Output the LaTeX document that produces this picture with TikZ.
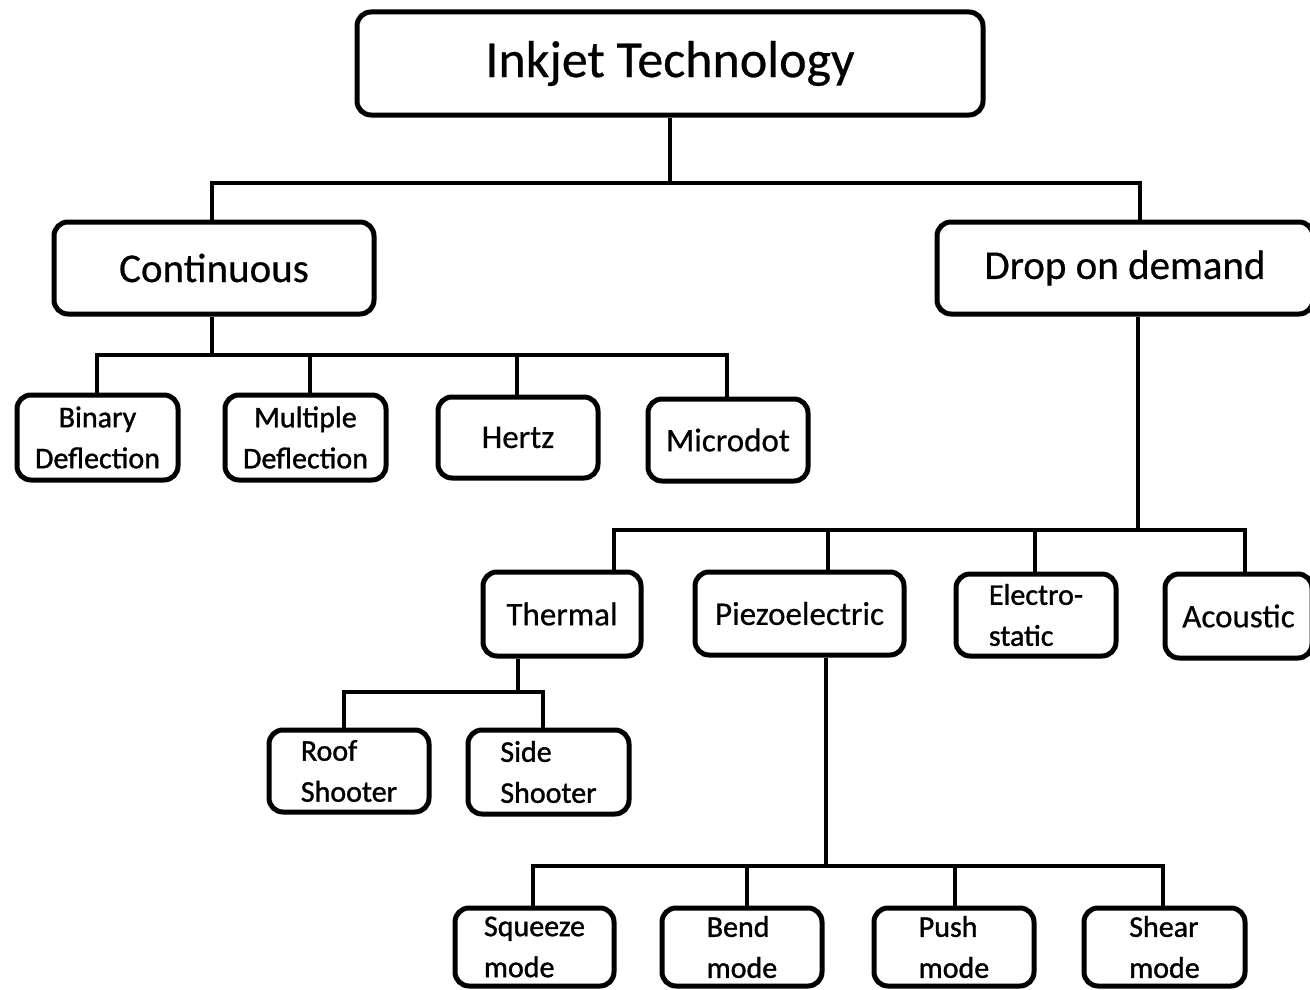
\documentclass[tikz,border=0pt]{standalone}
\usepackage{fontspec}
\setmainfont{Carlito}
\newfontfamily\heavyfont{Carlito}[FakeBold=1.2]
\newfontfamily\semifont{Carlito}[FakeBold=0.5]
\usetikzlibrary{calc}
\begin{document}
\begin{tikzpicture}[x=1pt,y=-1pt,
  box/.style={draw=black, line width=5pt, rounded corners=14pt, fill=white,
    inner sep=0pt, align=center, text=black},
  lbox/.style={box, align=left},
  conn/.style={draw=black, line width=4.5pt, line join=miter},
  big/.style={font=\semifont\fontsize{52}{60}\selectfont},
  mid/.style={font=\semifont\fontsize{41}{48}\selectfont},
  sml/.style={font=\semifont\fontsize{33}{40}\selectfont},
  two/.style={font=\heavyfont\fontsize{30}{41}\selectfont}]
\useasboundingbox (0,0) rectangle (1310,990);
\fill[white] (0,0) rectangle (1310,990);
\clip (0,0) rectangle (1310,990);

% bus coordinates
\coordinate (r1) at (212,183);
\coordinate (r2) at (1140,183);
\coordinate (c0) at (212,355);
\coordinate (c1) at (97,355);
\coordinate (c2) at (310,355);
\coordinate (c3) at (517,355);
\coordinate (c4) at (727,355);
\coordinate (d0) at (1138,530);
\coordinate (d1) at (614,530);
\coordinate (d2) at (828,530);
\coordinate (d3) at (1035,530);
\coordinate (d4) at (1245,530);
\coordinate (t0) at (518,692);
\coordinate (t1) at (344,692);
\coordinate (t2) at (543,692);
\coordinate (p0) at (826,866);
\coordinate (q1) at (533,866);
\coordinate (q2) at (747,866);
\coordinate (q3) at (955,866);
\coordinate (q4) at (1163,866);

% boxes
\node[box, big, minimum width=626, minimum height=103] (ink) at (670,63.5) {Inkjet Technology};
\node[box, mid, minimum width=320, minimum height=92] (cont) at (214,268) {Continuous};
\node[box, mid, minimum width=376, minimum height=92] (drop) at (1125,268) {Drop on demand};

\node[box, two, minimum width=161, minimum height=85] (bin) at (97.5,437.5) {Binary\\Deflection};
\node[box, two, minimum width=161, minimum height=85] (mult) at (305.5,437.5) {Multiple\\Deflection};
\node[box, sml, minimum width=160, minimum height=81] (hertz) at (518,437.5) {Hertz};
\node[box, sml, minimum width=160, minimum height=82] (micro) at (728,440) {Microdot};

\node[box, sml, minimum width=158, minimum height=84] (therm) at (562,614) {Thermal};
\node[box, sml, minimum width=209, minimum height=83] (piezo) at (799.5,613.5) {Piezoelectric};
\node[lbox, two, minimum width=160, minimum height=82] (elec) at (1036,615) {Electro-\\static};
\node[box, sml, minimum width=147, minimum height=84] (acou) at (1238.5,616) {Acoustic};

\node[lbox, two, minimum width=160, minimum height=82] (roof) at (349,771) {Roof\\Shooter};
\node[lbox, two, minimum width=161, minimum height=84] (side) at (548.5,772) {Side\\Shooter};

\node[lbox, two, minimum width=159, minimum height=78] (sq) at (534.5,947) {Squeeze\\mode};
\node[lbox, two, minimum width=160, minimum height=78] (bend) at (742,947) {Bend\\mode};
\node[lbox, two, minimum width=160, minimum height=78] (push) at (954,947) {Push\\mode};
\node[lbox, two, minimum width=161, minimum height=78] (shear) at (1164.5,947) {Shear\\mode};

% connectors
\draw[conn] (ink.south) -- (ink.south |- r1);
\draw[conn] (r1 |- cont.north) -- (r1) -- (r2) -- (r2 |- drop.north);

\draw[conn] (c0 |- cont.south) -- (c0);
\draw[conn] (c1 |- bin.north) -- (c1) -- (c4) -- (c4 |- micro.north);
\draw[conn] (c2) -- (c2 |- mult.north);
\draw[conn] (c3) -- (c3 |- hertz.north);

\draw[conn] (d0 |- drop.south) -- (d0);
\draw[conn] (d1 |- therm.north) -- (d1) -- (d4) -- (d4 |- acou.north);
\draw[conn] (d2) -- (d2 |- piezo.north);
\draw[conn] (d3) -- (d3 |- elec.north);

\draw[conn] (t0 |- therm.south) -- (t0);
\draw[conn] (t1 |- roof.north) -- (t1) -- (t2) -- (t2 |- side.north);

\draw[conn] (p0 |- piezo.south) -- (p0);
\draw[conn] (q1 |- sq.north) -- (q1) -- (q4) -- (q4 |- shear.north);
\draw[conn] (q2) -- (q2 |- bend.north);
\draw[conn] (q3) -- (q3 |- push.north);
\end{tikzpicture}
\end{document}
